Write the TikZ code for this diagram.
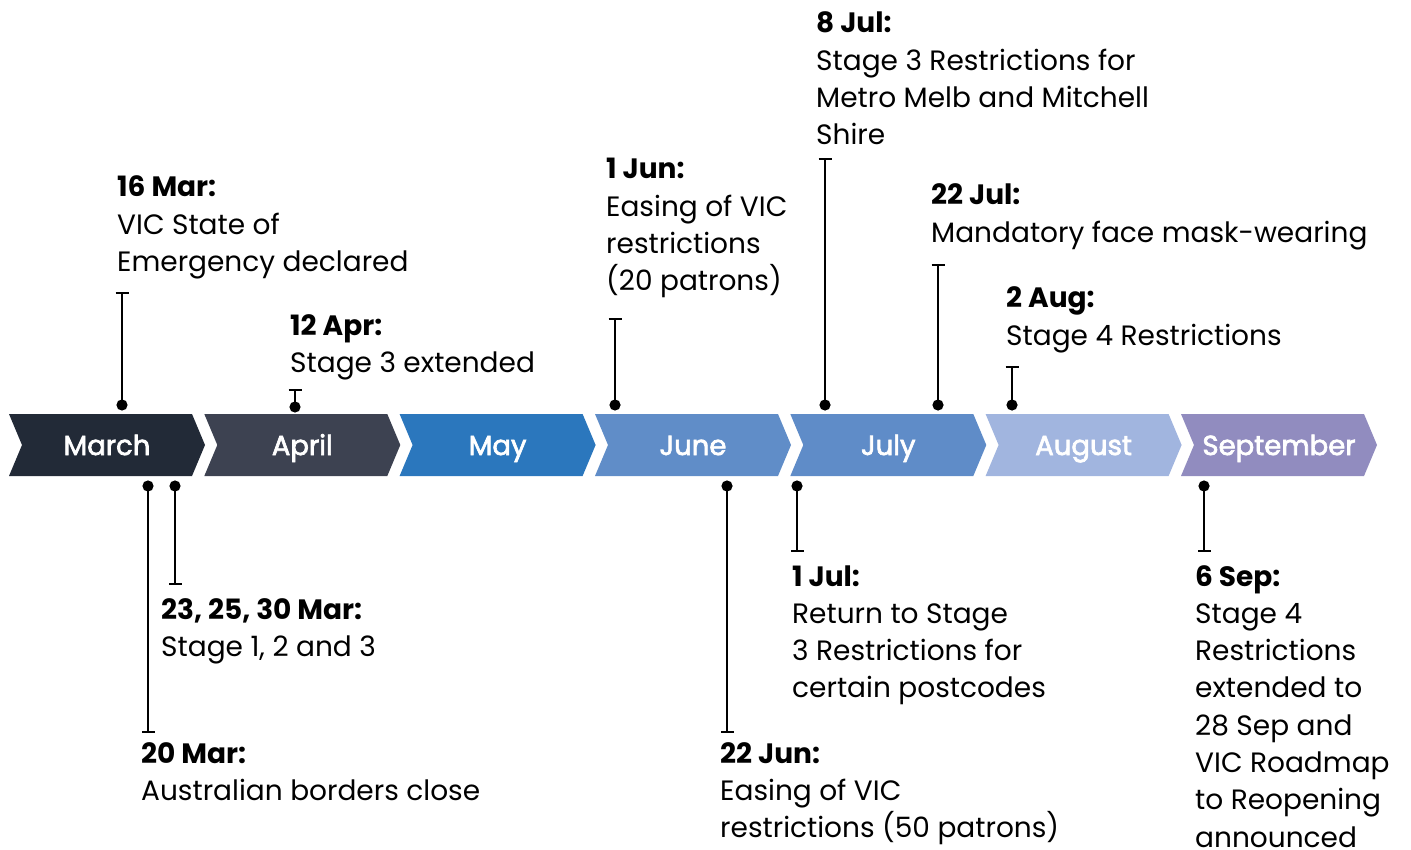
\documentclass[tikz,border=0pt]{standalone}
\usepackage{fontspec}
\setmainfont{Poppins}
\newfontfamily\monthfont[FakeBold=2.5]{Poppins}
\usetikzlibrary{arrows.meta}
\definecolor{cMar}{HTML}{222A37}
\definecolor{cApr}{HTML}{3D4251}
\definecolor{cMay}{HTML}{2B77BD}
\definecolor{cJun}{HTML}{608DC8}
\definecolor{cJul}{HTML}{5F8CC8}
\definecolor{cAug}{HTML}{A1B5DF}
\definecolor{cSep}{HTML}{918CBF}
\tikzset{
  evtext/.style={anchor=base west, align=left, inner sep=0pt, font=\fontsize{28}{37.3}\selectfont},
  monthlbl/.style={text=white, inner sep=0pt, anchor=base, font=\monthfont\fontsize{27.5}{30}\selectfont},
  marker/.style={line width=2.4pt, {Circle[length=11pt]}-{Bar[width=13pt]}},
}
\newcommand{\chev}[4]{% left x, colour, name, label
  \fill[#2] (#1,414) -- ++(183,0) -- ++(13,31) -- ++(-13,31) -- ++(-183,0) -- ++(13,-31) -- cycle;
  \node[monthlbl] (#3) at ({#1+98},455) {#4};
}
\begin{document}
\begin{tikzpicture}[x=1pt,y=-1pt]
\useasboundingbox (0,0) rectangle (1411,850);
\chev{9}{cMar}{mar}{March}
\chev{204.3}{cApr}{apr}{April}
\chev{399.6}{cMay}{may}{May}
\chev{595}{cJun}{jun}{June}
\chev{790.3}{cJul}{jul}{July}
\chev{985.6}{cAug}{aug}{August}
\chev{1181}{cSep}{sep}{September}

% above markers
\coordinate (d1) at (122,410.5); \coordinate (b1) at (122,292);
\coordinate (d2) at (295,412.5); \coordinate (b2) at (295,389);
\coordinate (d3) at (615,410.5); \coordinate (b3) at (615,318);
\coordinate (d4) at (825,410.5); \coordinate (b4) at (825,158);
\coordinate (d5) at (938,410.5); \coordinate (b5) at (938,264);
\coordinate (d6) at (1012,410.5); \coordinate (b6) at (1012,366);
% below markers
\coordinate (d7) at (148,480.5); \coordinate (b7) at (148,733);
\coordinate (d8) at (175,480.5); \coordinate (b8) at (175,585);
\coordinate (d9) at (727,480.5); \coordinate (b9) at (727,733);
\coordinate (d10) at (797,480.5); \coordinate (b10) at (797,552);
\coordinate (d11) at (1204,480.5); \coordinate (b11) at (1204,552);
\foreach \i in {1,...,11} {\draw[marker] (d\i) -- (b\i);}

% anchor = baseline of the last line
\node[evtext] (t1) at (117,271.6) {\textbf{16 Mar:}\\VIC State of\\Emergency declared};
\node[evtext] (t2) at (290,372.3) {\textbf{12 Apr:}\\Stage 3 extended};
\node[evtext] (t3) at (606,290.9) {\textbf{1 Jun:}\\Easing of VIC\\restrictions\\(20 patrons)};
\node[evtext] (t4) at (816,144.9) {\textbf{8 Jul:}\\Stage 3 Restrictions for\\Metro Melb and Mitchell\\Shire};
\node[evtext] (t5) at (931,242.3) {\textbf{22 Jul:}\\Mandatory face mask-wearing};
\node[evtext] (t6) at (1006,345.3) {\textbf{2 Aug:}\\Stage 4 Restrictions};
\node[evtext] (t7) at (141,800.3) {\textbf{20 Mar:}\\Australian borders close};
\node[evtext] (t8) at (161,656.3) {\textbf{23, 25, 30 Mar:}\\Stage 1, 2 and 3};
\node[evtext] (t9) at (720,837.6) {\textbf{22 Jun:}\\Easing of VIC\\restrictions (50 patrons)};
\node[evtext] (t10) at (792,697.9) {\textbf{1 Jul:}\\Return to Stage\\3 Restrictions for\\certain postcodes};
\node[evtext] (t11) at (1195,847.1) {\textbf{6 Sep:}\\Stage 4\\Restrictions\\extended to\\28 Sep and\\VIC Roadmap\\to Reopening\\announced};
\end{tikzpicture}
\end{document}
